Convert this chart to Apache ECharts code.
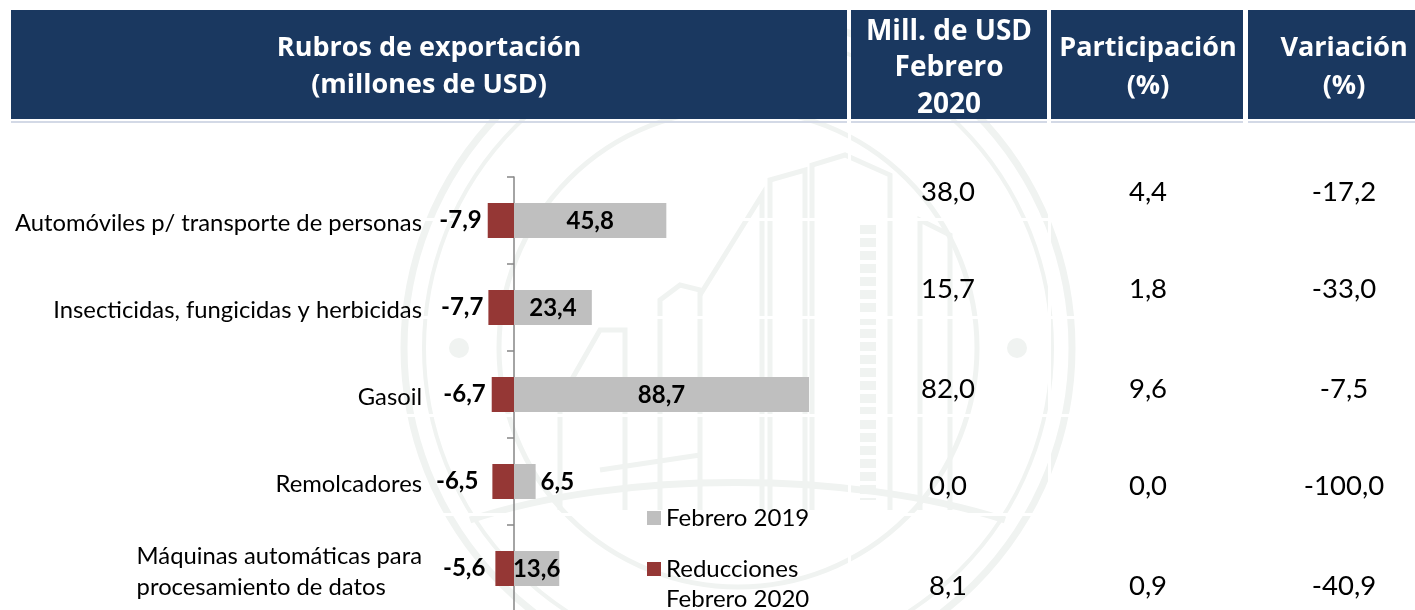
<!DOCTYPE html>
<html>
<head>
<meta charset="utf-8">
<style>html,body{margin:0;padding:0;background:#fff}#main{width:1415px;height:610px}</style>
<script src="https://cdn.jsdelivr.net/npm/echarts@6/dist/echarts.min.js"></script>
</head>
<body>
<div id="main"></div>
<script>
const categories = [
  'Automóviles p/ transporte de personas',
  'Insecticidas, fungicidas y herbicidas',
  'Gasoil',
  'Remolcadores',
  '{l|Máquinas automáticas para}\n{l|procesamiento de datos}'
];
const febrero2019 = [45.8, 23.4, 88.7, 6.5, 13.6];
const reducciones = [-7.9, -7.7, -6.7, -6.5, -5.6];
const millones = ['38,0', '15,7', '82,0', '0,0', '8,1'];
const participacion = ['4,4', '1,8', '9,6', '0,0', '0,9'];
const variacion = ['-17,2', '-33,0', '-7,5', '-100,0', '-40,9'];
const redLabelGap = [6, 5, 6, 14, 10];

const FONT = 'Lato';
const fmt = (p) => p.value.toFixed(1).replace('.', ',');
const WM = '#f0f3f1';

// watermark
const wm = [];
function ring(r, w) {
  wm.push({ type: 'circle', shape: { cx: 738, cy: 348, r: r }, style: { fill: 'none', stroke: WM, lineWidth: w } });
}
ring(334, 7); ring(314, 4); ring(239, 5);
wm.push({ type: 'circle', shape: { cx: 459, cy: 348, r: 10 }, style: { fill: WM } });
wm.push({ type: 'circle', shape: { cx: 1017, cy: 348, r: 10 }, style: { fill: WM } });
[
  [[560, 510], [560, 400], [600, 330], [625, 330], [625, 510]],
  [[660, 510], [660, 300], [680, 285], [700, 290], [700, 510]],
  [[700, 295], [762, 195], [762, 510]],
  [[770, 510], [770, 180], [805, 170], [805, 510]],
  [[812, 510], [812, 165], [845, 155], [890, 175], [890, 510]],
  [[920, 510], [920, 220], [950, 235], [950, 510]],
  [[600, 470], [700, 455]]
].forEach(function (pts) {
  wm.push({ type: 'polyline', shape: { points: pts }, style: { fill: 'none', stroke: WM, lineWidth: 5 } });
});
wm.push({ type: 'bezierCurve', shape: { x1: 470, y1: 520, cpx1: 620, cpy1: 470, cpx2: 850, cpy2: 470, x2: 1005, y2: 520 }, style: { fill: 'none', stroke: WM, lineWidth: 7 } });
wm.push({ type: 'line', shape: { x1: 868, y1: 225, x2: 868, y2: 500 }, style: { stroke: WM, lineWidth: 16, lineDash: [9, 4] } });

// white cell borders over the watermark
const gaps = [];
[218, 316, 414, 513].forEach(function (y) {
  gaps.push({ type: 'rect', shape: { x: 0, y: y, width: 1415, height: 3 }, style: { fill: '#fff' } });
});
[848, 1048, 1245].forEach(function (x) {
  gaps.push({ type: 'rect', shape: { x: x, y: 120, width: 3, height: 490 }, style: { fill: '#fff' } });
});

// header cells
const cols = [
  { x: 11, w: 836, cx: 429, size: 27, lines: [['Rubros de exportación', 48], ['(millones de USD)', 85]] },
  { x: 851, w: 196, cx: 949, size: 28, lines: [['Mill. de USD', 32], ['Febrero', 68], ['2020', 105]] },
  { x: 1051, w: 192, cx: 1148, size: 27, lines: [['Participación', 48], ['(%)', 86]] },
  { x: 1248, w: 167, cx: 1344, size: 27, lines: [['Variación', 48], ['(%)', 86]] }
];
const head = [];
cols.forEach(function (c) {
  head.push({ type: 'rect', shape: { x: c.x, y: 10, width: c.w, height: 109 }, style: { fill: '#1a3860' } });
  head.push({ type: 'rect', shape: { x: c.x, y: 121, width: c.w, height: 2 }, style: { fill: '#d3d9e6' } });
  c.lines.forEach(function (l) {
    head.push({
      type: 'text',
      style: { text: l[0], x: c.cx, y: l[1], align: 'center', verticalAlign: 'middle', fill: '#fff', font: 'bold ' + c.size + 'px "Open Sans"' }
    });
  });
});

// table values
const rowY = [192, 289, 389, 486, 586];
const cells = [];
[[948, millones], [1148, participacion], [1344, variacion]].forEach(function (col) {
  col[1].forEach(function (t, i) {
    cells.push({
      type: 'text',
      style: { text: t, x: col[0], y: rowY[i], align: 'center', verticalAlign: 'middle', fill: '#000', font: '27.5px ' + FONT }
    });
  });
});

const chart = echarts.init(document.getElementById('main'));
chart.setOption({
  animation: false,
  textStyle: { fontFamily: FONT },
  graphic: { elements: wm.concat(gaps, head, cells) },
  grid: { left: 430.85, width: 415.75, top: 177, height: 435, outerBoundsMode: 'none' },
  legend: {
    left: 647,
    top: 503,
    height: 200,
    padding: 0,
    orient: 'vertical',
    itemWidth: 14,
    itemHeight: 14,
    itemGap: -9,
    icon: 'rect',
    data: ['Febrero 2019', 'Reducciones Febrero 2020'],
    formatter: function (n) {
      return n === 'Febrero 2019' ? n : ' \nReducciones\nFebrero 2020';
    },
    textStyle: { fontSize: 24, color: '#000', lineHeight: 30, fontFamily: FONT }
  },
  xAxis: { type: 'value', min: -25, max: 100, show: false },
  yAxis: {
    type: 'category',
    inverse: true,
    data: categories,
    axisLine: { onZero: true, lineStyle: { color: '#868686', width: 1.5 } },
    axisTick: { show: true, length: 7, lineStyle: { color: '#868686', width: 1.5 } },
    axisLabel: {
      margin: 8.85,
      padding: [6, 0, 0, 0],
      fontSize: 23.8,
      color: '#000',
      fontFamily: FONT,
      rich: { l: { fontSize: 23.8, lineHeight: 31, align: 'left', fontFamily: FONT, color: '#000' } }
    }
  },
  series: [
    {
      name: 'Febrero 2019',
      type: 'bar',
      stack: 'a',
      barWidth: 35,
      itemStyle: { color: '#bfbfbf' },
      label: { show: true, formatter: fmt, color: '#000', fontWeight: 'bold', fontSize: 24, fontFamily: FONT, offset: [0, 1] },
      data: febrero2019.map(function (v) {
        return { value: v, label: { position: v < 10 ? 'right' : 'inside' } };
      })
    },
    {
      name: 'Reducciones Febrero 2020',
      type: 'bar',
      stack: 'a',
      barWidth: 35,
      itemStyle: { color: '#953735' },
      label: { show: true, formatter: fmt, color: '#000', fontWeight: 'bold', fontSize: 24, fontFamily: FONT },
      data: reducciones.map(function (v, i) {
        return { value: v, label: { position: 'left', distance: redLabelGap[i] } };
      })
    }
  ]
});
</script>
</body>
</html>
